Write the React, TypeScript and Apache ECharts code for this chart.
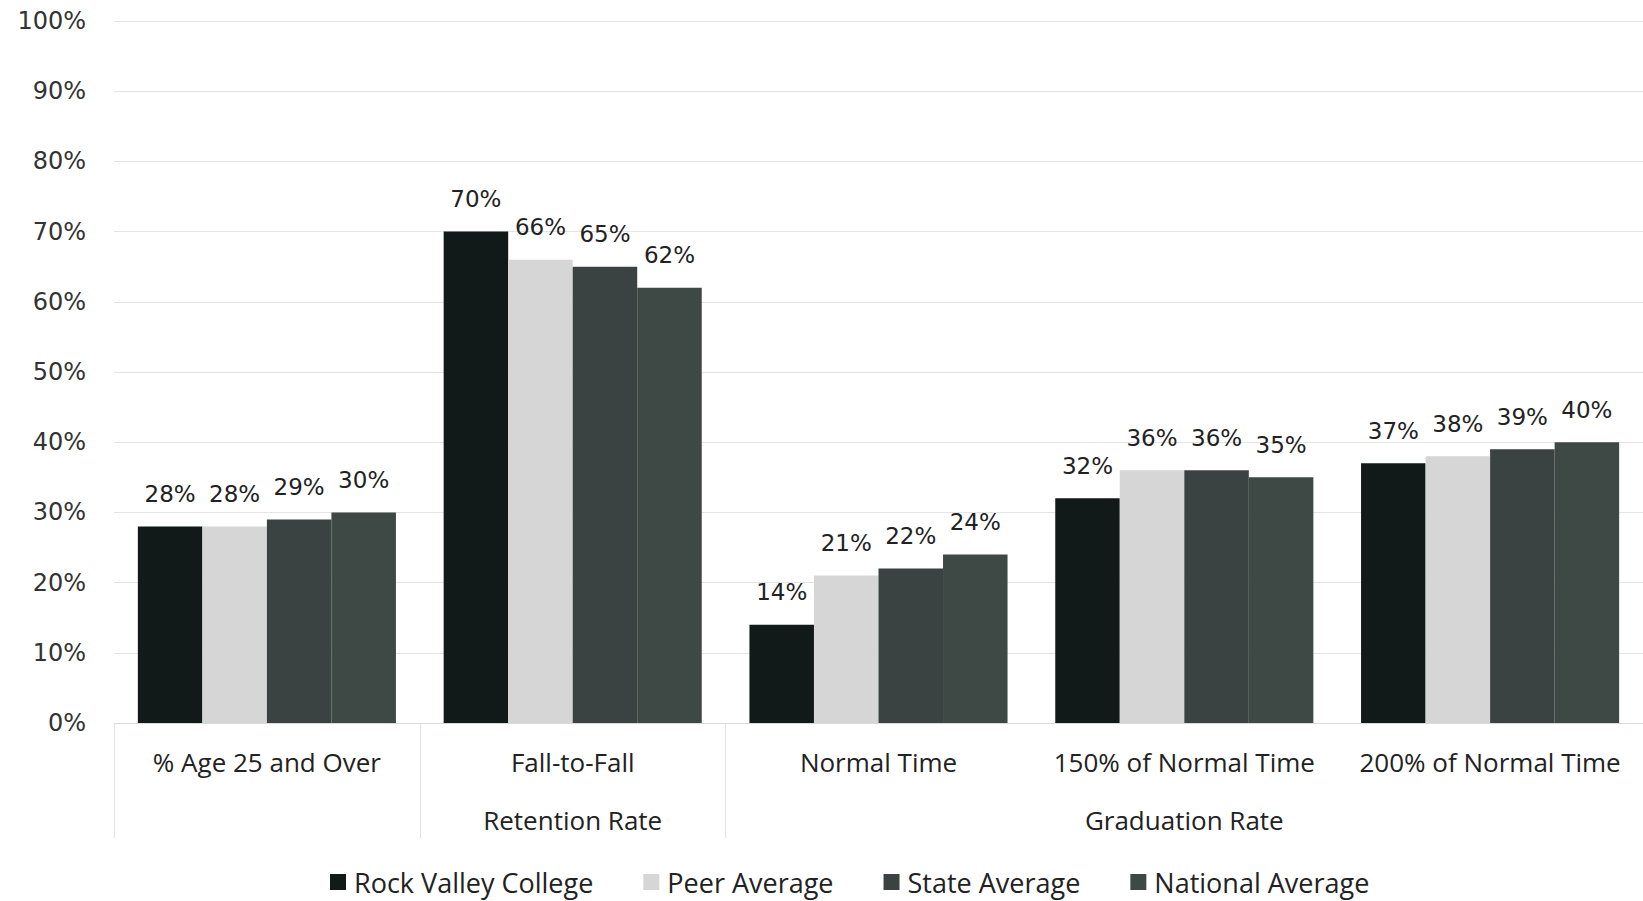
import React, { useEffect, useRef } from "react";
import * as echarts from "echarts";

// Measures shown along the x-axis and the group each belongs to
const categories = [
  "% Age 25 and Over",
  "Fall-to-Fall",
  "Normal Time",
  "150% of Normal Time",
  "200% of Normal Time",
];
const groupLabels = ["", "Retention Rate", "", "Graduation Rate", ""];

const seriesNames = ["Rock Valley College", "Peer Average", "State Average", "National Average"];
const rockValley = [28, 70, 14, 32, 37];
const peerAverage = [28, 66, 21, 36, 38];
const stateAverage = [29, 65, 22, 36, 39];
const nationalAverage = [30, 62, 24, 35, 40];

const yTicks = [0, 10, 20, 30, 40, 50, 60, 70, 80, 90, 100];

const colors = ["#111a18", "#d6d6d6", "#3a4341", "#3e4845"];

export default function App() {
  const ref = useRef<HTMLDivElement>(null);

  useEffect(() => {
    if (!ref.current) return;
    const chart = echarts.init(ref.current, undefined, { renderer: "svg" });
    const values = [rockValley, peerAverage, stateAverage, nationalAverage];

    chart.setOption({
      animation: false,
      backgroundColor: "#ffffff",
      grid: { left: 114, right: -6, top: 21, bottom: 178, containLabel: false },
      legend: {
        data: seriesNames,
        left: 330,
        top: 867,
        padding: 0,
        itemWidth: 16,
        itemHeight: 16,
        itemGap: 50,
        icon: "rect",
        textStyle: {
          fontFamily: "Open Sans",
          fontSize: 27,
          lineHeight: 30,
          color: "#222",
          padding: [0, 0, 0, 3],
        },
      },
      xAxis: {
        type: "category",
        data: categories,
        boundaryGap: true,
        axisLine: { show: true, lineStyle: { color: "#d9d9d9", width: 1 } },
        axisTick: {
          show: true,
          length: 115,
          interval: (idx: number) => idx <= 2,
          lineStyle: { color: "#e3e3e3", width: 1 },
        },
        axisLabel: {
          interval: 0,
          margin: 10,
          fontFamily: "Open Sans",
          fontSize: 26,
          lineHeight: 58,
          color: "#222",
          formatter: (v: string) => {
            const i = categories.indexOf(v);
            return groupLabels[i] ? v + "\n" + groupLabels[i] : v;
          },
        },
      },
      yAxis: {
        type: "value",
        min: yTicks[0],
        max: yTicks[yTicks.length - 1],
        interval: 10,
        axisLine: { show: false },
        axisTick: { show: false },
        splitLine: { lineStyle: { color: "#e4e4e4", width: 1 } },
        axisLabel: {
          margin: 28,
          fontFamily: "DejaVu Sans",
          fontSize: 24,
          color: "#333",
          formatter: "{value}%",
        },
      },
      series: seriesNames.map((name, s) => ({
        name,
        type: "bar",
        data: values[s],
        barGap: "0%",
        barCategoryGap: "15.6%",
        itemStyle: { color: colors[s] },
        label: {
          show: true,
          position: "top",
          distance: 21,
          fontFamily: "DejaVu Sans",
          fontSize: 23,
          color: "#222",
          formatter: "{c}%",
        },
      })),
    });

    return () => chart.dispose();
  }, []);

  return (
    <div
      ref={ref}
      style={{ position: "fixed", left: 0, top: 0, width: 1643, height: 901, background: "#fff" }}
    />
  );
}
